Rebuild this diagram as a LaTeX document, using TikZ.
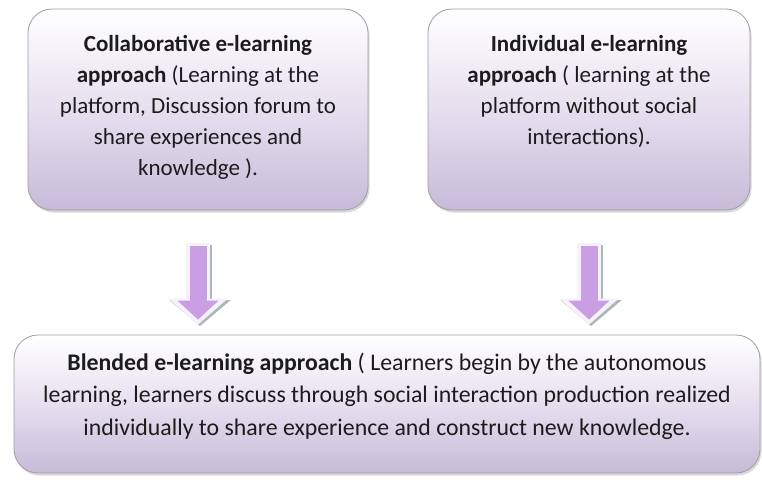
\documentclass[tikz,border=0pt]{standalone}
\usepackage{fontspec}
\setmainfont{Carlito}
\usetikzlibrary{positioning,shadows,arrows.meta}

\definecolor{panelbot}{RGB}{199,187,216}
\definecolor{panelmid}{RGB}{230,223,239}
\definecolor{panelrim}{RGB}{160,156,166}
\definecolor{arrowfill}{RGB}{201,158,227}
\definecolor{arrowrim}{RGB}{150,166,166}
\definecolor{arrowhalo}{RGB}{246,241,251}
\definecolor{textgray}{RGB}{28,28,28}

\begin{document}
\begin{tikzpicture}[x=1pt,y=1pt,
    panel/.style={rounded corners=24pt, draw=panelrim, line width=0.8pt,
        top color=white, bottom color=panelbot, middle color=panelmid,
        drop shadow={opacity=0.3, shadow xshift=1.5pt, shadow yshift=-2.5pt},
        inner sep=0pt},
    paneltext/.style={align=center, inner sep=0pt, text=textgray,
        font=\fontsize{23}{31}\selectfont},
    arrowrim/.style={line width=24pt, draw=arrowrim!80,
        -{Triangle[length=26pt,width=60pt]}},
    arrowhalo/.style={line width=24pt, draw=arrowhalo,
        -{Triangle[length=26pt,width=58pt]}},
    arrowcore/.style={line width=17pt, draw=arrowfill,
        -{Triangle[length=19pt,width=40pt]}}]
\useasboundingbox (0,0) rectangle (762,483);

% the three boxes
\node[panel, minimum width=340pt, minimum height=201pt] (coll) at (198,373.5) {};
\node[panel, minimum width=322pt, minimum height=201pt] (indiv) at (589,373.5) {};
\node[panel, minimum width=746pt, minimum height=138pt] (blend) at (387,79) {};

\node[paneltext, below=27pt of coll.north] (colltext)
    {\textbf{Collaborative e-learning}\\
     \textbf{approach} (Learning at the\\
     platform, Discussion forum to\\
     share experiences and\\
     knowledge ).};
\node[paneltext, below=27pt of indiv.north] (indivtext)
    {\textbf{Individual e-learning}\\
     \textbf{approach} ( learning at the\\
     platform without social\\
     interactions).};
\node[paneltext, font=\fontsize{23.8}{32.5}\selectfont, below=18pt of blend.north] (blendtext)
    {\textbf{Blended e-learning approach} ( Learners begin by the autonomous\\
     learning, learners discuss through social interaction production realized\\
     individually to share experience and construct new knowledge.};

% block arrows
\coordinate (collfrom) at ([yshift=-33pt]coll.south);
\coordinate (collto) at ([yshift=10pt]coll.south |- blend.north);
\coordinate (indivfrom) at ([yshift=-33pt]indiv.south);
\coordinate (indivto) at ([yshift=10pt]indiv.south |- blend.north);

\foreach \from/\to in {collfrom/collto, indivfrom/indivto} {
    \draw[arrowrim] ([xshift=2pt,yshift=-1.5pt]\from) -- ([xshift=2pt,yshift=-1.5pt]\to);
    \draw[arrowhalo] (\from) -- (\to);
    \draw[arrowcore] ([yshift=-3pt]\from) -- ([yshift=5pt]\to);
}
\end{tikzpicture}
\end{document}
